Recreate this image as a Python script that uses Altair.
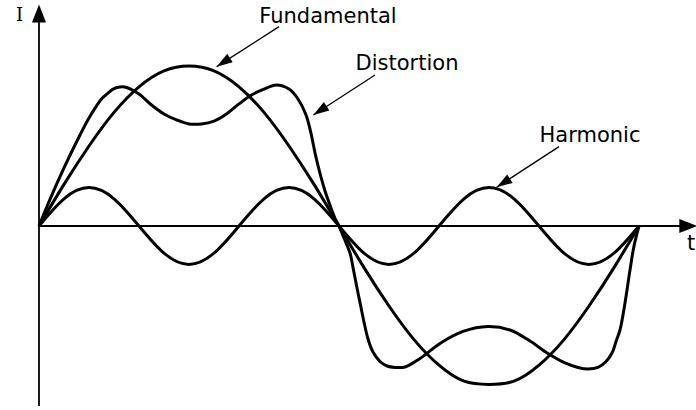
import math
import altair as alt
import pandas as pd

# Phase of the fundamental in degrees (one full period) and current in
# units where the fundamental's peak is 100.
fund_t = [0, 15, 30, 45, 60, 75, 90, 105, 120, 135, 150, 165, 180,
          195, 210, 225, 240, 255, 270, 285, 300, 315, 330, 345, 360]
fund_i = [0, 26, 50, 71, 87, 97, 100, 97, 87, 71, 50, 26, 0,
          -26, -50, -71, -87, -97, -99, -97, -87, -71, -50, -26, 0]

harm_t = [0, 15, 30, 45, 60, 75, 90, 105, 120, 135, 150, 165, 180,
          195, 210, 225, 240, 255, 270, 285, 300, 315, 330, 345, 360]
harm_i = [0, 17, 24, 17, 0, -17, -24, -17, 0, 17, 24, 17, 0,
          -17, -24, -17, 0, 17, 24, 17, 0, -17, -24, -17, 0]

dist_t = [0, 7.5, 15, 22.5, 30, 37.5, 41.4, 45, 48.6, 52.5, 60, 67.5, 75,
          82.5, 90, 97.5, 105, 112.5, 120, 127.5, 135, 142.5, 150,
          155, 160, 163, 166, 169, 172, 175, 178, 180,
          183, 186.6, 188.7, 190.8, 192.9, 195, 197.4, 200.4, 204.6,
          208.8, 213.6, 219.6, 228.6, 240.6, 254.4, 269.4, 282.6,
          294.6, 305.4, 315.6, 323.4, 329.4, 335.4, 340.2, 343.8,
          346.5, 348.6, 351.6, 354.6, 357, 360]
dist_i = [0, 18.8, 36.3, 52.5, 67.5, 79.4, 83.1, 85.9, 86.9, 86.6, 82.5,
          75.6, 70,
          66.3, 63.8, 63.8, 65.6, 70, 76.3, 81.9, 85.6, 88.1, 85.6,
          80, 70, 58.8, 43.8, 31.3, 20.6, 11.9, 3.8, 0,
          -7.5, -16.9, -27.5, -38.8, -49.4, -60, -70.6, -78.8, -84.7,
          -87.5, -88.4, -88.1, -82.8, -73.4, -65.9, -62.8, -65,
          -71.9, -79.7, -85.6, -88.4, -89.4, -88.4, -84.7, -79.4,
          -71.3, -65, -48.1, -27.5, -12.5, 0]

# Callout labels: text position and arrow from (t0, i0) to tip (t1, i1)
labels = ["Fundamental", "Distortion", "Harmonic"]
label_t = [173.4, 220.8, 330.6]
label_i = [127.1, 97.5, 52.3]
arrow_t0 = [144.0, 201.6, 312.0]
arrow_i0 = [124.6, 94.4, 49.6]
arrow_t1 = [106.6, 164.6, 274.6]
arrow_i1 = [99.6, 69.4, 24.2]

# Axis lines (t0, i0) -> (t1, i1), arrow tips and axis titles
axis_t0 = [-0.6, 0.0]
axis_i0 = [0.0, -112.5]
axis_t1 = [392.0, 0.0]
axis_i1 = [0.0, 136.0]
tip_t = [395.0, 0.0]
tip_i = [0.0, 138.5]
tip_ang = [90, 0]
x_title = ["t", 391.2, -15.0]
y_title = ["I", -11.7, 127.9]

T_DOMAIN = [-23.4, 394.2]
I_DOMAIN = [-115.0, 141.25]
PX_PER_T = 696 / (T_DOMAIN[1] - T_DOMAIN[0])
PX_PER_I = 410 / (I_DOMAIN[1] - I_DOMAIN[0])

xs = alt.Scale(domain=T_DOMAIN, nice=False, zero=False)
ys = alt.Scale(domain=I_DOMAIN, nice=False, zero=False)


def X(f):
    return alt.X(f, type="quantitative", scale=xs, axis=None)


def Y(f):
    return alt.Y(f, type="quantitative", scale=ys, axis=None)


def heading(t0, i0, t1, i1):
    dx = (t1 - t0) * PX_PER_T
    dy = -(i1 - i0) * PX_PER_I
    return math.degrees(math.atan2(dx, -dy)) % 360


curves = pd.concat([
    pd.DataFrame({"t": fund_t, "i": fund_i, "curve": "Fundamental"}),
    pd.DataFrame({"t": harm_t, "i": harm_i, "curve": "Harmonic"}),
])
dist = pd.DataFrame({"t": dist_t, "i": dist_i})

ann = pd.DataFrame({
    "label": labels, "lt": label_t, "li": label_i,
    "t0": arrow_t0, "i0": arrow_i0, "t1": arrow_t1, "i1": arrow_i1,
})
ann["ang"] = [heading(a, b, c, d) for a, b, c, d in
              zip(arrow_t0, arrow_i0, arrow_t1, arrow_i1)]

axes = pd.DataFrame({"t0": axis_t0, "i0": axis_i0,
                     "t1": axis_t1, "i1": axis_i1})
tips = pd.DataFrame({"t": tip_t, "i": tip_i, "ang": tip_ang})
titles = pd.DataFrame([x_title], columns=["s", "t", "i"])
ititle = pd.DataFrame([y_title], columns=["s", "t", "i"])

HEAD = "M0,0 L-0.32,1 L0.32,1 Z"
AXIS_HEAD = "M0,0 L-0.39,1 L0.39,1 Z"

smooth = alt.Chart(curves).mark_line(
    color="black", strokeWidth=3, interpolate="natural"
).encode(x=X("t"), y=Y("i"), detail="curve:N")

distortion = alt.Chart(dist).mark_line(
    color="black", strokeWidth=3, interpolate="catmull-rom"
).encode(x=X("t"), y=Y("i"))

axis_lines = alt.Chart(axes).mark_rule(color="black", strokeWidth=1.8).encode(
    x=X("t0"), y=Y("i0"), x2="t1:Q", y2="i1:Q")

axis_heads = alt.Chart(tips).mark_point(
    shape=AXIS_HEAD, filled=True, color="black", opacity=1, size=1300,
    strokeWidth=0
).encode(x=X("t"), y=Y("i"), angle=alt.Angle("ang:Q", scale=None))

arrow_lines = alt.Chart(ann).mark_rule(color="black", strokeWidth=1.3).encode(
    x=X("t0"), y=Y("i0"), x2="t1:Q", y2="i1:Q")

arrow_heads = alt.Chart(ann).mark_point(
    shape=HEAD, filled=True, color="black", opacity=1, size=1000,
    strokeWidth=0
).encode(x=X("t1"), y=Y("i1"), angle=alt.Angle("ang:Q", scale=None))

label_text = alt.Chart(ann).mark_text(
    font="DejaVu Sans", fontSize=21, align="center", baseline="alphabetic",
    color="black"
).encode(x=X("lt"), y=Y("li"), text="label:N")

t_title = alt.Chart(titles).mark_text(
    font="DejaVu Sans", fontSize=21, align="center", baseline="alphabetic",
    color="black"
).encode(x=X("t"), y=Y("i"), text="s:N")

i_title = alt.Chart(ititle).mark_text(
    font="DejaVu Serif", fontSize=18, align="center",
    baseline="alphabetic", color="black"
).encode(x=X("t"), y=Y("i"), text="s:N")

chart = alt.layer(
    axis_lines, axis_heads, smooth, distortion,
    arrow_lines, arrow_heads, label_text, t_title, i_title
).properties(
    width=696, height=410,
    autosize=alt.AutoSizeParams(type="none"),
    padding=0,
    background="white",
).configure_view(stroke=None)

chart.save("out.html", embed_options={"renderer": "svg", "actions": False})
